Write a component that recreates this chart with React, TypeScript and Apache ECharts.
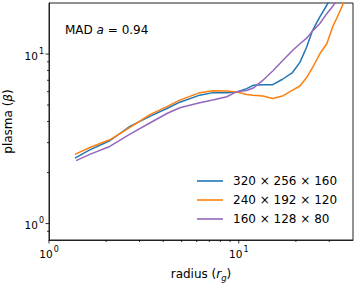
import React, { useEffect, useRef } from "react";
import * as echarts from "echarts";

// radius (r_g) and plasma beta for each resolution
const radius320 = [1.37, 1.64, 2.09, 2.67, 3.40, 4.18, 4.89, 6.23, 7.30, 8.65, 9.76, 11.0, 11.9, 13.4, 15.1, 17.0, 19.2, 21.0, 22.8, 24.5, 26.7, 29.1, 30.1];
const beta320 = [2.43, 2.72, 3.08, 3.74, 4.29, 4.77, 5.20, 5.72, 5.92, 5.92, 5.97, 6.25, 6.54, 6.60, 6.60, 7.10, 7.78, 8.93, 11.0, 13.8, 16.5, 19.4, 21.0];

const radius240 = [1.37, 1.64, 2.09, 2.67, 3.40, 4.18, 4.89, 6.23, 7.30, 8.65, 9.76, 11.0, 11.9, 13.4, 15.1, 17.0, 19.2, 21.0, 22.8, 24.5, 26.7, 29.1, 31.2, 34.0, 36.1];
const beta240 = [2.56, 2.81, 3.12, 3.69, 4.39, 4.90, 5.35, 5.92, 6.08, 6.05, 5.97, 5.78, 5.72, 5.65, 5.47, 5.65, 6.13, 6.48, 7.27, 8.33, 10.0, 11.5, 14.4, 17.7, 20.7];

const radius160 = [1.39, 1.64, 2.09, 2.67, 3.40, 4.18, 4.89, 6.23, 7.30, 8.65, 9.76, 11.0, 11.9, 13.4, 15.1, 17.0, 19.2, 21.0, 22.8, 24.5, 26.7, 29.1, 31.2, 32.8];
const beta160 = [2.35, 2.56, 2.85, 3.37, 3.92, 4.46, 4.82, 5.16, 5.35, 5.60, 6.00, 6.10, 6.30, 7.00, 7.95, 9.12, 10.5, 11.5, 12.4, 13.7, 15.1, 17.3, 19.05, 20.7];

const seriesNames = ["320 × 256 × 160", "240 × 192 × 120", "160 × 128 × 80"];
const seriesColors = ["#1f77b4", "#ff7f0e", "#9467bd"];

const xMajorTicks = [1, 10];
const xMinorTicks = [2, 3, 4, 5, 6, 7, 8, 9, 20, 30];
const yMajorTicks = [1, 10];
const yMinorTicks = [0.9, 2, 3, 4, 5, 6, 7, 8, 9];

const X_MIN = 1;
const X_MAX = 40;
const Y_MIN = 0.8;
const Y_MAX = 20;

const FONT = "DejaVu Sans";

const zip = (xs: number[], ys: number[]) => xs.map((x, i) => [x, ys[i]]);

const isDecade = (v: number) => {
  const l = Math.log10(v);
  return Math.abs(l - Math.round(l)) < 1e-6;
};

const tickLabelRich = {
  b: { fontSize: 10.5, fontFamily: FONT, color: "#000", verticalAlign: "bottom", lineHeight: 14 },
  s: { fontSize: 8, fontFamily: FONT, color: "#000", verticalAlign: "top", lineHeight: 14, padding: [0, 0, 0, 1] },
};

const tickSeries = (values: number[], axis: "x" | "y", len: number) => ({
  type: "custom",
  coordinateSystem: "cartesian2d",
  silent: true,
  clip: false,
  z: 10,
  data: values.map((v) => (axis === "x" ? [v, Y_MIN] : [X_MIN, v])),
  renderItem: (params: any, api: any) => {
    const p = api.coord([api.value(0), api.value(1)]);
    const shape =
      axis === "x"
        ? { x1: p[0], y1: p[1], x2: p[0], y2: p[1] + len }
        : { x1: p[0] - len, y1: p[1], x2: p[0], y2: p[1] };
    return { type: "line", shape, style: { stroke: "#000", lineWidth: 0.8 } };
  },
});

export default function App() {
  const ref = useRef<HTMLDivElement>(null);
  useEffect(() => {
    if (!ref.current) return;
    const chart = echarts.init(ref.current, undefined, { renderer: "svg" });
    const lineData = [zip(radius320, beta320), zip(radius240, beta240), zip(radius160, beta160)];
    chart.setOption({
      animation: false,
      backgroundColor: "#fff",
      grid: {
        left: 49,
        right: 4,
        top: 3,
        bottom: 44,
        show: true,
        borderColor: "#222",
        borderWidth: 1,
        backgroundColor: "transparent",
        containLabel: false,
        outerBoundsMode: "none",
      },
      xAxis: {
        type: "log",
        logBase: 10,
        min: X_MIN,
        max: X_MAX,
        axisLine: { show: true, lineStyle: { color: "#222", width: 1 } },
        axisTick: { show: false },
        splitLine: { show: false },
        axisLabel: {
          margin: 5,
          showMaxLabel: false,
          formatter: (v: number) => (isDecade(v) ? `{b|10}{s|${Math.round(Math.log10(v))}}` : ""),
          rich: tickLabelRich,
        },
        name: "{n|radius (}{i|r}{sub|g}{n|)}",
        nameLocation: "middle",
        nameGap: 25,
        nameTextStyle: {
          rich: {
            n: { fontSize: 12, fontFamily: FONT, color: "#000", lineHeight: 17, verticalAlign: "middle" },
            i: { fontSize: 12, fontFamily: FONT, fontStyle: "italic", color: "#000", lineHeight: 17, verticalAlign: "middle" },
            sub: { fontSize: 8.5, fontFamily: FONT, fontStyle: "italic", color: "#000", verticalAlign: "bottom", lineHeight: 17 },
          },
        },
      },
      yAxis: {
        type: "log",
        logBase: 10,
        min: Y_MIN,
        max: Y_MAX,
        axisLine: { show: true, lineStyle: { color: "#222", width: 1 } },
        axisTick: { show: false },
        splitLine: { show: false },
        axisLabel: {
          margin: 5,
          showMinLabel: false,
          showMaxLabel: false,
          formatter: (v: number) => (isDecade(v) ? `{b|10}{s|${Math.round(Math.log10(v))}}` : ""),
          rich: tickLabelRich,
        },
        name: "{n|plasma (}{i|β}{n|)}",
        nameLocation: "middle",
        nameRotate: 90,
        nameGap: 32,
        nameTextStyle: {
          rich: {
            n: { fontSize: 12, fontFamily: FONT, color: "#000" },
            i: { fontSize: 12, fontFamily: FONT, fontStyle: "italic", color: "#000" },
          },
        },
      },
      legend: {
        data: seriesNames,
        orient: "vertical",
        left: 197,
        top: 174,
        icon: "rect",
        itemWidth: 26,
        itemHeight: 1.6,
        itemGap: 5,
        padding: 0,
        textStyle: { fontSize: 12, fontFamily: FONT, color: "#000", padding: [0, 0, 0, 5], lineHeight: 14 },
      },
      graphic: [
        {
          type: "text",
          left: 65,
          top: 24,
          style: {
            text: "{n|MAD }{i|a}{n| = 0.94}",
            rich: {
              n: { fontSize: 12, fontFamily: FONT, fill: "#000" },
              i: { fontSize: 12, fontFamily: FONT, fontStyle: "italic", fill: "#000" },
            },
          },
        },
      ],
      series: [
        ...lineData.map((d, i) => ({
          name: seriesNames[i],
          type: "line",
          data: d,
          symbol: "none",
          clip: true,
          color: seriesColors[i],
          lineStyle: { width: 1.5, color: seriesColors[i] },
        })),
        tickSeries(xMajorTicks, "x", 3.5),
        tickSeries(xMinorTicks, "x", 2),
        tickSeries(yMajorTicks, "y", 3.5),
        tickSeries(yMinorTicks, "y", 2),
      ],
    });
    return () => chart.dispose();
  }, []);
  return <div ref={ref} style={{ width: 357, height: 284, position: "absolute", left: 0, top: 0 }} />;
}
